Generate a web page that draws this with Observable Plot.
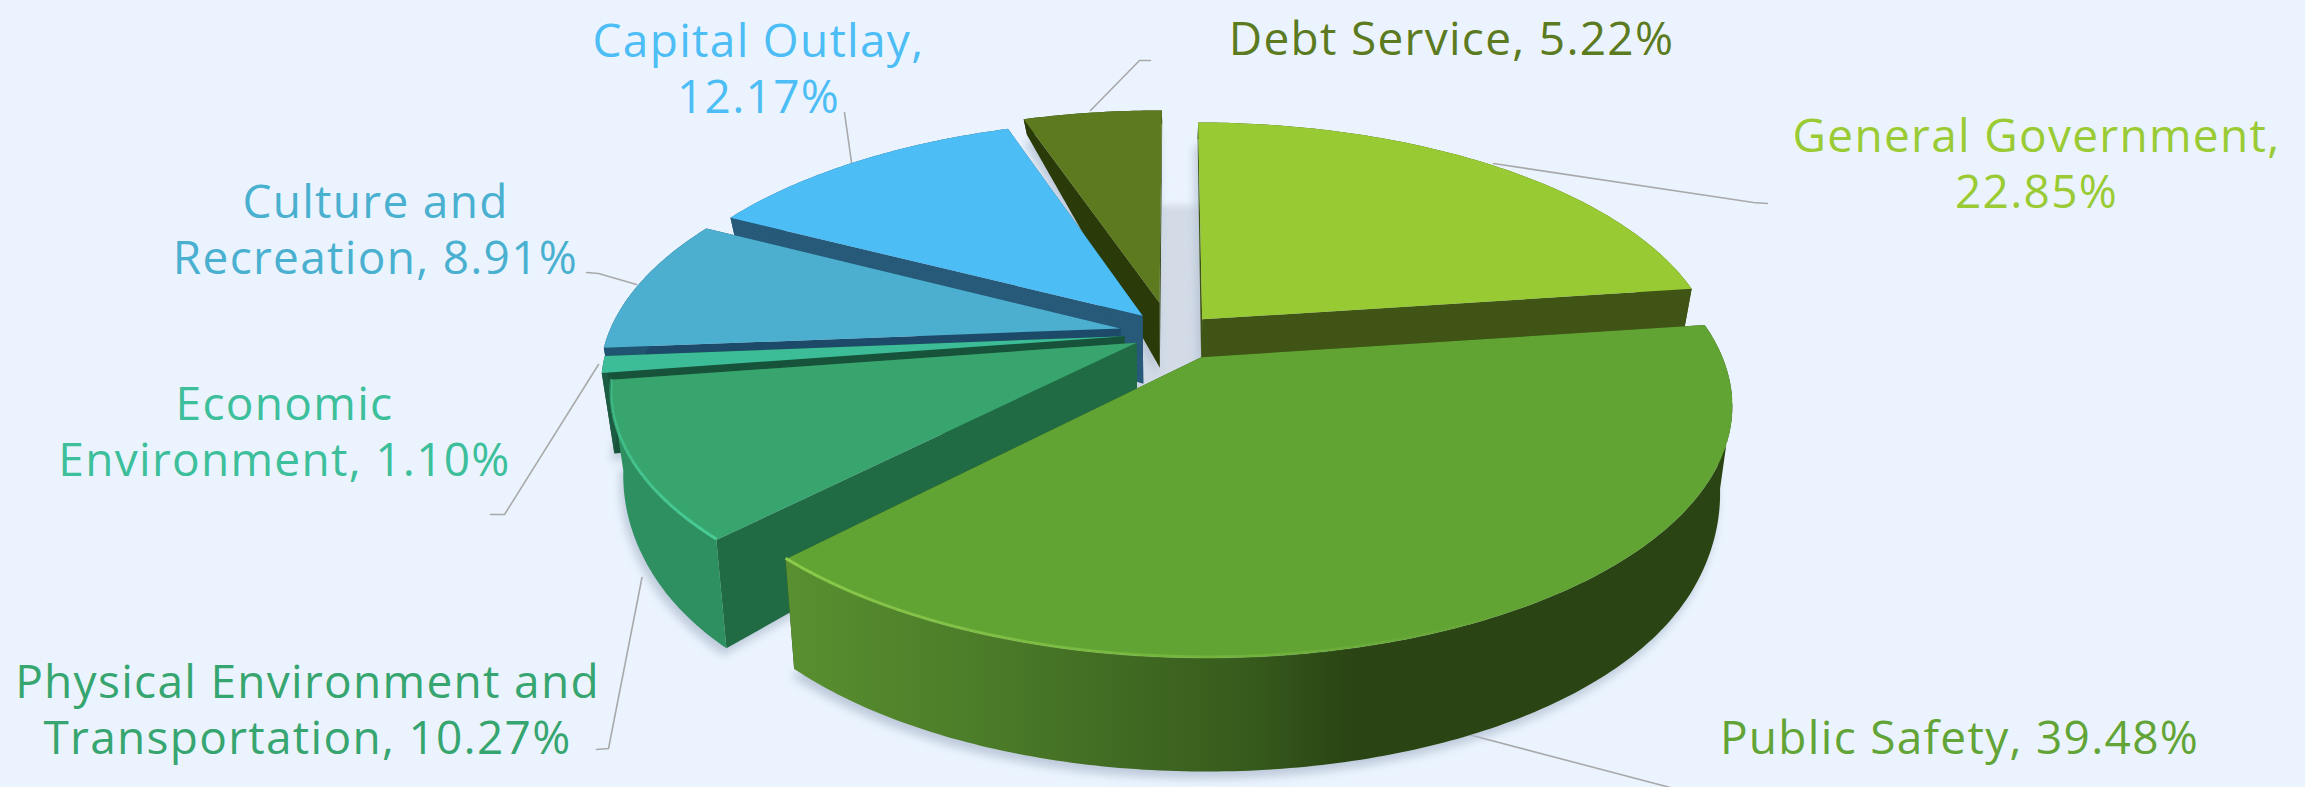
<!DOCTYPE html>
<html>
<head>
<meta charset="utf-8">
<script src="https://cdn.jsdelivr.net/npm/d3@7"></script>
<script src="https://cdn.jsdelivr.net/npm/@observablehq/plot@0.6"></script>
<style>
html,body{margin:0;padding:0;background:#ebf4fe;overflow:hidden}
svg{display:block}
svg text{letter-spacing:1.3px}
</style>
</head>
<body>
<div id="chart"></div>
<script>
// ---- chart data ----
const categories = ["General Government","Public Safety","Physical Environment and Transportation","Economic Environment","Culture and Recreation","Capital Outlay","Debt Service"];
const values = [22.85,39.48,10.27,1.10,8.91,12.17,5.22];
const explode = [0.08,0.11,0.085,0.10,0.11,0.10,0.135];
const driftX = [0,0,0,0,0,0,-0.01];
const topColors = ["#98ca33","#62a434","#38a56e","#3cbd98","#4cafd0","#4dbdf6","#5d7a1e"];
const faceColors = ["#3f5415","#2a4513","#206a44","#17533a","#1d4a68","#265a78","#2a3a08"];
const sideColors = ["#3f5415","url(#psWall)","#2e9060","#1b5c42","#1f5570","#265a78","#2a3a08"];
const labelColors = ["#9acb34","#62a436","#36a56f","#3cbf9a","#4ab0d0","#4dbdf5","#5c7a1f"];
const labelLines = [
  ["General Government,","22.85%"],
  ["Public Safety, 39.48%"],
  ["Physical Environment and","Transportation, 10.27%"],
  ["Economic","Environment, 1.10%"],
  ["Culture and","Recreation, 8.91%"],
  ["Capital Outlay,","12.17%"],
  ["Debt Service, 5.22%"]
];
const labelAnchorX = [2036,1959,307,284,375,758,1451];
const labelBaseY = [151,753,697,419,217,56,54];
const leaders = [
  [[1493,163],[1753,202],[1767,203]],
  [[1468,734],[1700,795]],
  [[641.5,577],[608,748],[596,749]],
  [[598,364],[504,514],[490,514]],
  [[636,284],[598,273],[586,272]],
  [[851,162],[844,112]],
  [[1090,110],[1139,60],[1150,60]]
];
// ---- view of the tilted pie ----
const cx=1175, cy=333, A=512, D=237, g=0.18, fs=46, lh=56;
const thick=Y=>Y<-0.6 ? 103+13*(1-Math.exp((Y+0.6)*3.4)) : 72-52*Y;
function proj(X,Y,d=0){
  const w=1+g*Y;
  const px=A*X/w, py=-D*Y/w;
  return {x:cx+px*(1-0.022*d), y:cy+py+thick(Y)*d};
}
const rad=a=>a*Math.PI/180;
const total=d3.sum(values);
let acc=0;
const slices=values.map((v,i)=>{
  const a0=acc/total*360; acc+=v; const a1=acc/total*360;
  const m=rad((a0+a1)/2);
  return {i,a0,a1,ox:explode[i]*Math.sin(m)+driftX[i],oy:explode[i]*Math.cos(m)};
});
const worldRim=(s,a)=>[s.ox+Math.sin(rad(a)),s.oy+Math.cos(rad(a))];
const rimAngles=s=>d3.range(s.a0,s.a1,0.75).concat([s.a1]);

const polys=[], shadow=[], glints=[];
let id=0;
function addPoly(pts,fill,list=polys){const k=id++;pts.forEach(p=>list.push({k,x:p.x,y:p.y,fill}));}
const drawOrder=[0,6,5,4,3,2,1];
for(const i of drawOrder){
  const s=slices[i], as=rimAngles(s);
  const bottom=[proj(s.ox,s.oy,1),...as.map(a=>proj(...worldRim(s,a),1))].map(p=>({x:p.x-3,y:p.y+7}));
  addPoly(bottom,"#aebbcd",shadow);
  for(const a of [s.a0,s.a1]){
    addPoly([proj(s.ox,s.oy,0),proj(...worldRim(s,a),0),proj(...worldRim(s,a),1),proj(s.ox,s.oy,1)],faceColors[i]);
  }
  // outer wall: back and front arcs apart, so overlapping strips keep their fill
  for(const [lo,hi] of [[0,100],[100,260],[260,360]]){
    const part=as.filter(a=>a>=lo&&a<=hi);
    if(part.length<2) continue;
    addPoly([...part.map(a=>proj(...worldRim(s,a),0)),...part.slice().reverse().map(a=>proj(...worldRim(s,a),1))],sideColors[i]);
  }
  addPoly([proj(s.ox,s.oy,0),...as.map(a=>proj(...worldRim(s,a),0))],topColors[i]);
}
// light edge along the front rims, fading out
function rimGlint(i,from,to,c,o){
  const s=slices[i];
  const fade=d3.scaleLinear().domain([from,to]).range([o[0],o[1]]);
  for(let a=from;a>to;a-=1){
    const p=proj(...worldRim(s,a),0), q=proj(...worldRim(s,Math.max(a-1,to)),0);
    glints.push({x1:p.x,y1:p.y-1,x2:q.x,y2:q.y-1,c,o:fade(a)});
  }
}
rimGlint(1,slices[1].a1,150,"#8ccb4c",[1,0]);
rimGlint(2,slices[2].a1,slices[2].a0,"#48cc96",[0.5,1]);
const backShade=d3.range(0,361,4).map(a=>proj(0.62*Math.sin(rad(a)),0.62*Math.cos(rad(a))-0.02,0));
const leaderRows=leaders.flatMap((l,i)=>l.map(p=>({i,x:p[0],y:p[1]})));
const textRows=labelLines.flatMap((ls,i)=>ls.map((t,j)=>({t,x:labelAnchorX[i],y:labelBaseY[i]+j*lh,c:labelColors[i]})));
const wallStops=[[782,"#5a9030"],[1000,"#4a7a28"],[1250,"#365a1c"],[1350,"#2a4513"],[1740,"#2a4513"]];
function wallGradient(){
  const defs=d3.create("svg:defs");
  const lg=defs.append("linearGradient").attr("id","psWall").attr("gradientUnits","userSpaceOnUse")
    .attr("x1",wallStops[0][0]).attr("x2",wallStops[wallStops.length-1][0]).attr("y1",0).attr("y2",0);
  const span=wallStops[wallStops.length-1][0]-wallStops[0][0];
  wallStops.forEach(([x,c])=>lg.append("stop").attr("offset",(x-wallStops[0][0])/span).attr("stop-color",c));
  return defs.node();
}

const chart=Plot.plot({
  width:2305,height:787,margin:0,
  x:{type:"linear",domain:[0,2305],range:[0,2305],axis:null},
  y:{type:"linear",domain:[0,787],range:[0,787],axis:null},
  color:{type:"identity"},
  style:{background:"#ebf4fe"},
  marks:[
    wallGradient,
    Plot.line(backShade,{x:"x",y:"y",fill:"#d3dbe7",stroke:"none",imageFilter:"blur(3px)"}),
    Plot.line(leaderRows,{x:"x",y:"y",z:"i",stroke:"#a9a9a9",strokeWidth:1.6}),
    Plot.line(shadow,{x:"x",y:"y",z:"k",fill:"fill",stroke:"none",fillOpacity:0.75,imageFilter:"blur(5px)"}),
    Plot.line(polys,{x:"x",y:"y",z:"k",fill:"fill",stroke:"none"}),
    Plot.link(glints,{x1:"x1",y1:"y1",x2:"x2",y2:"y2",stroke:"c",strokeOpacity:"o",strokeWidth:3,imageFilter:"blur(0.7px)"}),
    Plot.text(textRows,{x:"x",y:"y",text:"t",fill:"c",fontSize:fs,fontFamily:"'Open Sans', sans-serif",textAnchor:"middle",lineAnchor:"middle",dy:-0.32*fs})
  ]
});
document.getElementById("chart").append(chart);
</script>
</body>
</html>
